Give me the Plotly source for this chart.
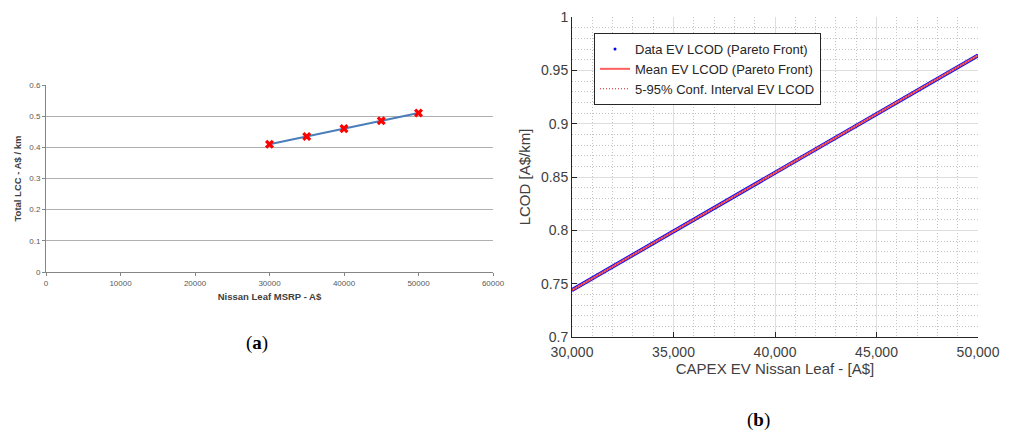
import plotly.graph_objects as go

W, H = 1009, 435

# ---- panel (a) data ----
msrp = [30000, 35000, 40000, 45000, 50000]
lcc = [0.41, 0.435, 0.46, 0.485, 0.51]
a_xticks = [0, 10000, 20000, 30000, 40000, 50000, 60000]
a_yticks = [0, 0.1, 0.2, 0.3, 0.4, 0.5, 0.6]

# ---- panel (b) data ----
capex = [30000, 31000, 32000, 33000, 34000, 35000, 36000, 37000, 38000, 39000, 40000,
         41000, 42000, 43000, 44000, 45000, 46000, 47000, 48000, 49000, 50000]
lcod_data = [0.744, 0.755, 0.766, 0.777, 0.788, 0.799, 0.810, 0.821, 0.832, 0.843, 0.854,
             0.865, 0.876, 0.887, 0.898, 0.909, 0.920, 0.931, 0.942, 0.953, 0.964]
lcod_mean = [0.744, 0.755, 0.766, 0.777, 0.788, 0.799, 0.810, 0.821, 0.832, 0.843, 0.854,
             0.865, 0.876, 0.887, 0.898, 0.909, 0.920, 0.931, 0.942, 0.953, 0.964]
lcod_lo = [0.7435, 0.7545, 0.7655, 0.7765, 0.7875, 0.7985, 0.8095, 0.8205, 0.8315, 0.8425, 0.8535,
           0.8645, 0.8755, 0.8865, 0.8975, 0.9085, 0.9195, 0.9305, 0.9415, 0.9525, 0.9635]
lcod_hi = [0.7445, 0.7555, 0.7665, 0.7775, 0.7885, 0.7995, 0.8105, 0.8215, 0.8325, 0.8435, 0.8545,
           0.8655, 0.8765, 0.8875, 0.8985, 0.9095, 0.9205, 0.9315, 0.9425, 0.9535, 0.9645]
b_xticks = [30000, 35000, 40000, 45000, 50000]
b_xticktext = ["30,000", "35,000", "40,000", "45,000", "50,000"]
b_yticks = [0.7, 0.75, 0.8, 0.85, 0.9, 0.95, 1.0]
b_yticktext = ["0.7", "0.75", "0.8", "0.85", "0.9", "0.95", "1"]

fig = go.Figure()

# panel (a)
fig.add_trace(go.Scatter(x=msrp, y=lcc, mode="lines+markers", xaxis="x", yaxis="y",
                         line=dict(color="#4a7ebb", width=2),
                         marker=dict(symbol="x", size=8, color="#ff0000",
                                     line=dict(width=0)),
                         showlegend=False))

# panel (b)
fig.add_trace(go.Scatter(x=capex, y=lcod_data, mode="lines", xaxis="x2", yaxis="y2",
                         line=dict(color="#1010ff", width=4), showlegend=False,
                         hoverinfo="skip"))
fig.add_trace(go.Scatter(x=capex, y=lcod_data, mode="markers", xaxis="x2", yaxis="y2",
                         marker=dict(color="#0000ff", size=3),
                         name="Data EV LCOD (Pareto Front)"))
fig.add_trace(go.Scatter(x=capex, y=lcod_mean, mode="lines", xaxis="x2", yaxis="y2",
                         line=dict(color="#ff6060", width=2),
                         name="Mean EV LCOD (Pareto Front)"))
fig.add_trace(go.Scatter(x=capex, y=lcod_lo, mode="lines", xaxis="x2", yaxis="y2",
                         line=dict(color="#cc2020", width=1, dash="1px,2px"),
                         name="5-95% Conf. Interval EV LCOD"))
fig.add_trace(go.Scatter(x=capex, y=lcod_hi, mode="lines", xaxis="x2", yaxis="y2",
                         line=dict(color="#cc2020", width=1, dash="1px,2px"),
                         showlegend=False))

a_font = dict(family="Liberation Sans, Arial, sans-serif", size=8, color="#595959")
b_font = dict(family="Liberation Sans, Arial, sans-serif", size=14, color="#404040")
a_title_font = dict(family="Liberation Sans, Arial, sans-serif", size=9.5, color="#404040")
b_title_font = dict(family="Liberation Sans, Arial, sans-serif", size=15, color="#404040")

fig.update_layout(
    width=W, height=H,
    margin=dict(l=0, r=0, t=0, b=0),
    paper_bgcolor="white", plot_bgcolor="white",
    xaxis=dict(domain=[46 / W, 493 / W], range=[0, 60000], tickvals=a_xticks,
               tickformat="d", showgrid=False, zeroline=False, automargin=False,
               showline=True, linecolor="#868686", linewidth=1,
               ticks="outside", ticklen=3, tickcolor="#868686",
               tickfont=a_font, anchor="y",
               title=dict(text="<b>Nissan Leaf MSRP - A$</b>", font=a_title_font, standoff=6)),
    yaxis=dict(domain=[1 - 272 / H, 1 - 85 / H], range=[0, 0.6], tickvals=a_yticks,
               showgrid=True, gridcolor="#b0b0b0", gridwidth=1, zeroline=False, automargin=False,
               showline=True, linecolor="#868686", linewidth=1,
               ticks="outside", ticklen=3, tickcolor="#868686",
               tickfont=a_font, anchor="x",
               title=dict(text="<b>Total LCC - A$ / km</b>", font=a_title_font, standoff=5)),
    xaxis2=dict(domain=[572 / W, 978 / W], range=[30000, 50000], tickvals=b_xticks,
                ticktext=b_xticktext, showgrid=True, gridcolor="#dedede", gridwidth=1,
                zeroline=False, showline=True, linecolor="#262626", linewidth=1, automargin=False,
                ticks="inside", ticklen=5, tickcolor="#262626", ticklabelstandoff=2,
                minor=dict(dtick=1000, tick0=30000, showgrid=True, gridcolor="#c4c4c4",
                           griddash="1px,2px", gridwidth=1),
                tickfont=b_font, anchor="y2",
                title=dict(text="CAPEX EV Nissan Leaf - [A$]", font=b_title_font, standoff=2)),
    yaxis2=dict(domain=[1 - 337 / H, 1 - 17 / H], range=[0.7, 1.0], tickvals=b_yticks,
                ticktext=b_yticktext, showgrid=True, gridcolor="#dedede", gridwidth=1,
                zeroline=False, showline=True, linecolor="#262626", linewidth=1, automargin=False,
                ticks="inside", ticklen=5, tickcolor="#262626",
                minor=dict(dtick=0.01, tick0=0.7, showgrid=True, gridcolor="#c4c4c4",
                           griddash="1px,2px", gridwidth=1),
                tickfont=b_font, anchor="x2",
                title=dict(text="LCOD [A$/km]", font=b_title_font, standoff=6)),
    legend=dict(x=594 / W, y=1 - 33 / H, xanchor="left", yanchor="top",
                bgcolor="white", bordercolor="#262626", borderwidth=1,
                font=dict(family="Liberation Sans, Arial, sans-serif", size=13, color="#262626"),
                tracegroupgap=0),
    annotations=[
        dict(text="(<b>a</b>)", x=257 / W, y=1 - 343 / H, xref="paper", yref="paper",
             showarrow=False, xanchor="center", yanchor="middle",
             font=dict(family="Liberation Serif, DejaVu Serif, serif", size=19, color="black")),
        dict(text="(<b>b</b>)", x=758 / W, y=1 - 420 / H, xref="paper", yref="paper",
             showarrow=False, xanchor="center", yanchor="middle",
             font=dict(family="Liberation Serif, DejaVu Serif, serif", size=19, color="black")),
    ],
)

fig.write_html("out.html")
